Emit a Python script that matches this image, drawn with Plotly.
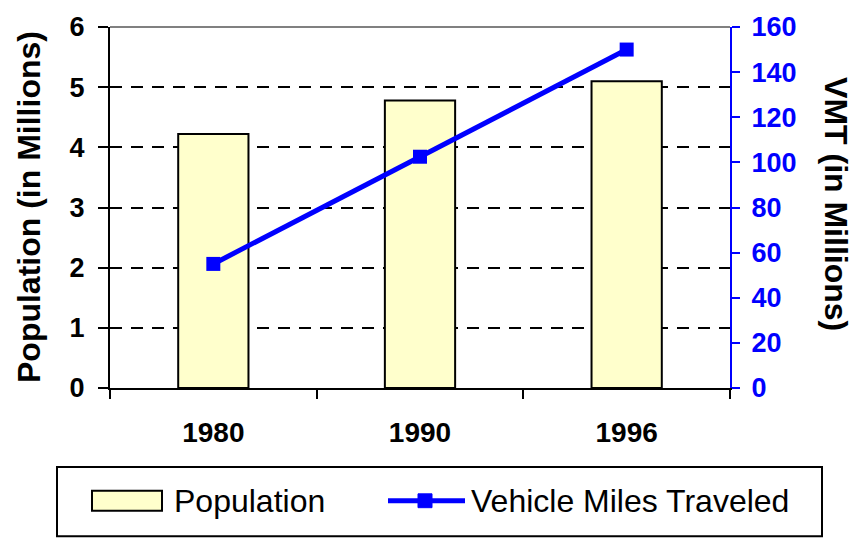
import plotly.graph_objects as go

# chart data
years = ["1980", "1990", "1996"]
population = [4.22, 4.78, 5.1]   # millions
vmt = [55, 102.5, 150]           # vehicle miles traveled, millions

W, H = 857, 541
L, R, T, B = 110, 127, 23, 153
PW, PH = W - L - R, H - T - B

def px_x(x):
    return (x - L) / PW

def px_y(y):
    return (H - B - y) / PH

FONT = "Liberation Sans, Arial, sans-serif"

fig = go.Figure()
fig.add_trace(go.Bar(x=years, y=population, name="Population",
                     marker=dict(color="#FFFFCC", line=dict(color="black", width=2)),
                     showlegend=False))
fig.add_trace(go.Scatter(x=years, y=vmt, name="Vehicle Miles Traveled", yaxis="y2",
                         mode="lines+markers",
                         line=dict(color="#0000FF", width=5),
                         marker=dict(symbol="square", size=14, color="#0000FF"),
                         showlegend=False))

fig.update_layout(
    width=W, height=H,
    margin=dict(l=L, r=R, t=T, b=B),
    paper_bgcolor="white", plot_bgcolor="white",
    bargap=0.66,
    font=dict(family=FONT, color="black"),
    xaxis=dict(showline=True, linecolor="black", linewidth=2,
               ticks="outside", tickson="boundaries", ticklen=9, tickwidth=2, tickcolor="black",
               tickfont=dict(size=28, family=FONT, weight="bold"),
               ticklabelstandoff=18, showgrid=False),
    yaxis=dict(range=[0, 6], dtick=1, showline=True, linecolor="black", linewidth=2,
               ticks="outside", ticklen=10, tickwidth=2, tickcolor="black",
               tickfont=dict(size=27, family=FONT, weight="bold"),
               ticklabelstandoff=8,
               showgrid=True, gridcolor="black", gridwidth=2, griddash="12px,9px",
               zeroline=False),
    yaxis2=dict(range=[0, 160], dtick=20, overlaying="y", side="right",
                showline=True, linecolor="#0000FF", linewidth=2,
                ticks="outside", ticklen=8, tickwidth=2, tickcolor="#0000FF",
                tickfont=dict(size=27, family=FONT, weight="bold", color="#0000FF"),
                ticklabelstandoff=6, showgrid=False, zeroline=False),
)

# gray top border of plot area
fig.add_shape(type="line", xref="paper", yref="paper", x0=0, x1=1, y0=1, y1=1,
              line=dict(color="#808080", width=2), layer="above")

# axis titles
fig.add_annotation(text="Population (in Millions)", xref="paper", yref="paper",
                   x=px_x(29), y=px_y(205), xanchor="center", yanchor="middle",
                   textangle=-90, showarrow=False,
                   font=dict(size=32, family=FONT, weight="bold"))
fig.add_annotation(text="VMT (in Millions)", xref="paper", yref="paper",
                   x=px_x(836), y=px_y(202), xanchor="center", yanchor="middle",
                   textangle=90, showarrow=False,
                   font=dict(size=32, family=FONT, weight="bold"))

# legend box
fig.add_shape(type="rect", xref="paper", yref="paper",
              x0=px_x(57), x1=px_x(822), y0=px_y(468), y1=px_y(538),
              line=dict(color="black", width=2), fillcolor="white")
fig.add_shape(type="rect", xref="paper", yref="paper",
              x0=px_x(92), x1=px_x(162), y0=px_y(492), y1=px_y(512),
              line=dict(color="black", width=2), fillcolor="#FFFFCC")
fig.add_annotation(text="Population", xref="paper", yref="paper",
                   x=px_x(172), y=px_y(502), xanchor="left", yanchor="middle",
                   showarrow=False, font=dict(size=32, family=FONT))
fig.add_shape(type="line", xref="paper", yref="paper",
              x0=px_x(388), x1=px_x(465), y0=px_y(502), y1=px_y(502),
              line=dict(color="#0000FF", width=5))
fig.add_shape(type="rect", xref="paper", yref="paper",
              x0=px_x(418), x1=px_x(432), y0=px_y(495), y1=px_y(509),
              line=dict(color="#0000FF", width=1), fillcolor="#0000FF")
fig.add_annotation(text="Vehicle Miles Traveled", xref="paper", yref="paper",
                   x=px_x(469), y=px_y(502), xanchor="left", yanchor="middle",
                   showarrow=False, font=dict(size=32, family=FONT))

# drop the default page margin so the figure sits at the window corner
fig.write_html("out.html", config={"displayModeBar": False},
               post_script="document.body.style.margin='0';document.body.style.overflow='hidden';")
